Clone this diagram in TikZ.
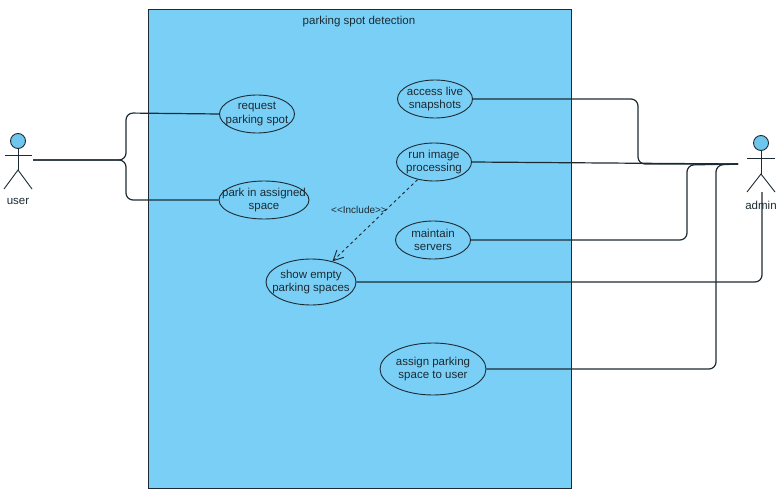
\documentclass[tikz,border=0pt]{standalone}
\usepackage{fontspec}
\setmainfont{Liberation Sans}
\usetikzlibrary{shapes.geometric,arrows.meta}
\definecolor{boxblue}{HTML}{7ACFF6}
\definecolor{headblue}{HTML}{6FC6EC}
\definecolor{inkdark}{HTML}{1C2B33}
\begin{document}
\begin{tikzpicture}[x=1pt,y=-1pt,line width=0.9pt,
  usecase/.style={ellipse,draw=inkdark,inner sep=-25pt,align=center,text=inkdark},
  link/.style={draw=inkdark,line width=1.2pt,rounded corners=7pt},
  every node/.style={font=\fontsize{11.5}{13.5}\selectfont}]
 \useasboundingbox (0,0) rectangle (776,500);
 \draw[draw=inkdark,fill=boxblue] (148.5,9) rectangle (571,488);
 \node[text=inkdark] (title) at (359,22) {parking spot detection};
 % use cases
 \node[usecase,minimum width=75pt,minimum height=38pt] (request) at (257,114) {request\\parking spot};
 \node[usecase,minimum width=90pt,minimum height=38pt] (park) at (264,200) {park in assigned\\space};
 \node[usecase,minimum width=75pt,minimum height=38pt] (access) at (435,99) {access live\\snapshots};
 \node[usecase,minimum width=75pt,minimum height=38pt] (run) at (434,162) {run image\\processing};
 \node[usecase,minimum width=75pt,minimum height=38pt] (maintain) at (433,240) {maintain\\servers};
 \node[usecase,minimum width=90pt,minimum height=46pt] (show) at (311,282) {show empty\\parking spaces};
 \node[usecase,minimum width=106pt,minimum height=52pt] (assign) at (433,369) {assign parking\\space to user};
 % user
 \node[circle,draw=inkdark,fill=headblue,inner sep=0pt,minimum size=15pt] (userhead) at (18,141) {};
 \coordinate (userneck) at (18,170);
 \draw[inkdark] (userhead)--(userneck);
 \draw[inkdark] (5,155)--(32,155);
 \draw[inkdark] (4,189)--(userneck)--(32,189);
 \node[text=inkdark] (user) at (18,201) {user};
 % admin
 \node[circle,draw=inkdark,fill=headblue,inner sep=0pt,minimum size=15pt] (adminhead) at (761,143) {};
 \coordinate (adminneck) at (761,174);
 \draw[inkdark] (adminhead)--(adminneck);
 \draw[inkdark] (747,158)--(775,158);
 \draw[inkdark] (747,192)--(adminneck)--(775,192);
 \node[text=inkdark] (admin) at (761,205) {admin};
 % connectors
 \coordinate (userend) at (33,160);
 \coordinate (adminend) at (738,164);
 \coordinate (adminfoot) at (762,192);
 \path[link] (userend)--(126,160)--(126,113)--(request.west);
 \path[link] (userend)--(126,160)--(126,200)--(park.west);
 \path[link] (access.east)--(638,99)--(638,164)--(adminend);
 \path[link] (run.east)--(adminend);
 \path[link] (maintain.east)--(687,240)--(687,165)--(adminend);
 \path[link] (assign.east)--(716,369)--(716,165)--(adminend);
 \path[link] (show.east)--(762,282)--(adminfoot);
 \draw[inkdark,dashed,-{Straight Barb[length=10pt,width=10pt]}] (run.227)--(show.44);
 \node[text=inkdark,font=\fontsize{10}{12}\selectfont] (include) at (359,210) {{<}{<}Include{>}{>}};
\end{tikzpicture}
\end{document}
